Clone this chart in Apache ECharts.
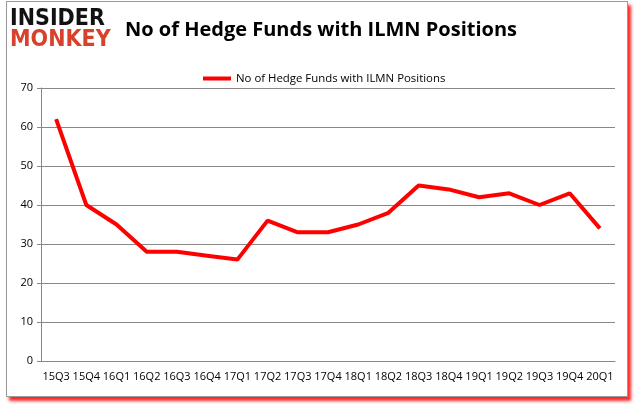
<!doctype html>
<html style="width: 100%; height: 100%"><head><meta charset="utf-8"></head>
<body style="width: 100%; height: 100%; margin: 0; background: #fff">
<div id="frame" style="position: absolute; left: 6px; top: 1px; width: 620px; height: 394px; border: 1px solid #9a9a9a; box-shadow: 3px 4px 3px rgba(255,0,0,0.85); background: #fff">
<div id="container" style="width: 100%; height: 100%"></div>
</div>
<script type="text/javascript" src="https://cdn.jsdelivr.net/npm/echarts@6/dist/echarts.min.js"></script>
<script type="text/javascript">
var quarters = ['15Q3','15Q4','16Q1','16Q2','16Q3','16Q4','17Q1','17Q2','17Q3','17Q4',
    '18Q1','18Q2','18Q3','18Q4','19Q1','19Q2','19Q3','19Q4','20Q1'];
var funds = [62, 40, 35, 28, 28, 27, 26, 36, 33, 33, 35, 38, 45, 44, 42, 43, 40, 43, 34];
var seriesName = 'No of Hedge Funds with ILMN Positions';

var myChart = echarts.init(document.getElementById('container'));
var option = {
    animation: false,
    graphic: [
        {type: 'text', left: 3, top: 6, style: {text: 'INSIDER', fill: '#111', font: 'bold 23px "DejaVu Sans Condensed"'}},
        {type: 'text', left: 3, top: 27, style: {text: 'MONKEY', fill: '#d8412c', font: 'bold 23px "DejaVu Sans Condensed"'}}
    ],
    title: {
        text: 'No of Hedge Funds with ILMN Positions',
        left: 113, top: 13,
        textStyle: {fontFamily: 'Open Sans', fontWeight: 'bold', fontSize: 20, color: '#000'}
    },
    legend: {
        top: 66, left: 191,
        itemWidth: 28, itemHeight: 4, itemGap: 2,
        icon: 'rect',
        textStyle: {fontFamily: 'Open Sans', fontSize: 11.4, color: '#000'},
        data: [seriesName]
    },
    grid: {left: 34, right: 12, top: 86, bottom: 35},
    xAxis: {
        type: 'category',
        data: quarters,
        boundaryGap: true,
        axisLine: {lineStyle: {color: '#888'}},
        axisTick: {alignWithLabel: false, length: 5, lineStyle: {color: '#888'}},
        axisLabel: {interval: 0, fontFamily: 'Open Sans', fontSize: 11, color: '#000', margin: 10}
    },
    yAxis: {
        type: 'value',
        min: 0, max: 70, interval: 10,
        axisLine: {show: true, lineStyle: {color: '#888'}},
        axisTick: {show: true, length: 4, lineStyle: {color: '#888'}},
        splitLine: {lineStyle: {color: '#888'}},
        axisLabel: {fontFamily: 'Open Sans', fontSize: 11, color: '#000', margin: 8}
    },
    series: [{
        name: seriesName,
        type: 'line',
        data: funds,
        symbol: 'none',
        lineStyle: {color: '#ff0000', width: 4},
        itemStyle: {color: '#ff0000'}
    }]
};
myChart.setOption(option);
</script>
</body></html>
